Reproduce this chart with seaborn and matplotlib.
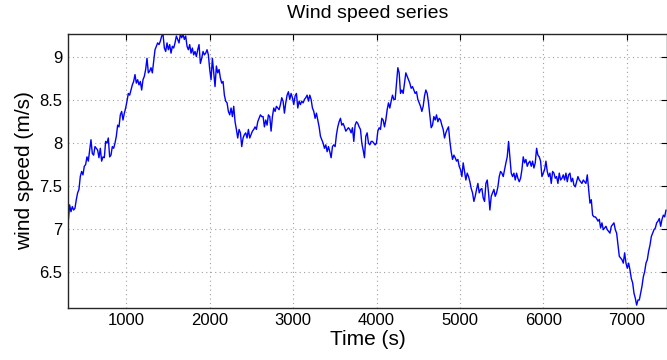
import numpy as np
import pandas as pd
import matplotlib
matplotlib.use("Agg")
import matplotlib.pyplot as plt
import seaborn as sns

seg1 = [7.09, 7.28, 7.20, 7.26, 7.22, 7.24, 7.34, 7.42, 7.46, 7.61, 7.67, 7.63, 7.73, 7.75, 7.84,
        7.79, 7.92, 8.04, 7.88, 7.86, 7.96, 7.94, 7.92, 7.83, 7.94, 7.79, 7.84, 7.83, 8.02, 8.00,
        8.06, 7.84, 7.86, 7.96, 7.94, 8.00, 8.08, 8.21, 8.19, 8.33, 8.37, 8.27, 8.35, 8.41, 8.49,
        8.58, 8.56, 8.62, 8.68, 8.72, 8.80, 8.70, 8.74, 8.68, 8.72, 8.62, 8.74, 8.78, 8.86, 8.99,
        8.82, 8.84, 8.88, 8.82, 8.95, 9.09, 9.13, 9.17, 9.15, 9.19, 9.25, 9.27, 9.11]
seg2 = [9.07, 9.17, 9.09, 9.15, 9.05, 9.13, 9.11, 9.17, 9.25, 9.21, 9.17, 9.27, 9.23, 9.27, 9.21,
        9.25, 9.13, 9.09, 9.15, 9.05, 9.11, 9.03, 9.07, 9.01, 9.09, 9.15, 8.93, 8.99, 9.07, 9.03,
        9.05, 9.09, 9.03, 8.86, 8.74, 8.99, 8.82, 8.66, 8.90, 8.82, 8.86, 8.76, 8.70, 8.72, 8.56,
        8.49, 8.47, 8.37, 8.33, 8.41, 8.31, 8.43, 8.25, 8.16, 8.06, 8.16, 8.12, 7.96, 8.06, 8.10,
        8.12, 8.06, 8.16, 8.06, 8.10, 8.14, 8.16, 8.19, 8.16, 8.25, 8.29, 8.33, 8.31, 8.31, 8.19]
seg3 = [8.27, 8.21, 8.33, 8.31, 8.14, 8.31, 8.41, 8.37, 8.43, 8.41, 8.39, 8.45, 8.53, 8.49, 8.35,
        8.47, 8.56, 8.60, 8.51, 8.58, 8.53, 8.45, 8.55, 8.58, 8.41, 8.49, 8.45, 8.49, 8.47, 8.51,
        8.53, 8.56, 8.49, 8.56, 8.51, 8.41, 8.37, 8.29, 8.35, 8.27, 8.19, 8.08, 8.04, 8.00, 7.94,
        7.98, 7.90, 7.96, 7.90, 7.83, 7.96, 7.98, 7.96, 8.10, 8.19, 8.25, 8.29, 8.21, 8.23, 8.19,
        8.14, 8.16, 8.18, 8.16, 8.12, 8.18, 8.02, 8.21, 8.25, 8.23, 8.19, 8.16, 8.00, 7.92, 7.83]
seg4 = [8.08, 8.12, 8.00, 7.98, 8.02, 8.02, 8.00, 7.98, 8.00, 8.14, 8.18, 8.16, 8.29, 8.27, 8.19,
        8.27, 8.39, 8.47, 8.41, 8.49, 8.56, 8.51, 8.51, 8.70, 8.88, 8.82, 8.58, 8.62, 8.58, 8.70,
        8.82, 8.78, 8.74, 8.70, 8.64, 8.66, 8.62, 8.58, 8.60, 8.51, 8.47, 8.43, 8.37, 8.43, 8.55,
        8.62, 8.58, 8.47, 8.33, 8.18, 8.21, 8.31, 8.27, 8.33, 8.25, 8.29, 8.27, 8.21, 8.16, 8.06,
        8.12, 8.16, 8.19, 8.02, 7.90, 7.81, 7.86, 7.83, 7.79, 7.81, 7.73, 7.69, 7.61, 7.77, 7.67]
seg5 = [7.57, 7.65, 7.61, 7.55, 7.47, 7.42, 7.32, 7.38, 7.46, 7.53, 7.42, 7.46, 7.47, 7.36, 7.32,
        7.53, 7.57, 7.42, 7.22, 7.38, 7.42, 7.46, 7.38, 7.42, 7.49, 7.61, 7.67, 7.65, 7.61, 7.69,
        7.77, 7.84, 8.02, 7.83, 7.65, 7.61, 7.65, 7.57, 7.65, 7.59, 7.55, 7.59, 7.69, 7.84, 7.77,
        7.81, 7.73, 7.77, 7.79, 7.73, 7.79, 7.71, 7.77, 7.94, 7.86, 7.84, 7.79, 7.61, 7.65, 7.69,
        7.79, 7.67, 7.61, 7.65, 7.53, 7.67, 7.65, 7.59, 7.61, 7.53, 7.65, 7.57, 7.59, 7.63, 7.57]
seg6 = [7.65, 7.55, 7.63, 7.65, 7.55, 7.59, 7.51, 7.49, 7.55, 7.61, 7.57, 7.55, 7.53, 7.57, 7.55,
        7.53, 7.63, 7.47, 7.30, 7.34, 7.16, 7.14, 7.14, 7.12, 7.09, 7.11, 7.01, 7.07, 6.99, 7.01,
        7.03, 6.99, 6.97, 6.95, 7.03, 7.05, 7.07, 6.99, 6.95, 6.81, 6.68, 6.66, 6.64, 6.60, 6.72,
        6.60, 6.54, 6.60, 6.52, 6.42, 6.37, 6.25, 6.19, 6.11, 6.17, 6.17, 6.25, 6.33, 6.44, 6.50,
        6.60, 6.64, 6.74, 6.81, 6.91, 6.95, 6.99, 7.01, 7.07, 7.09, 7.12, 7.03, 7.11, 7.16, 7.14,
        7.22]

speed = seg1 + seg2 + seg3 + seg4 + seg5 + seg6
t_start, t_step = 303, 16
time = t_start + t_step * np.arange(len(speed))

x_ticks = [1000, 2000, 3000, 4000, 5000, 6000, 7000]
y_ticks = [6.5, 7, 7.5, 8, 8.5, 9]

df = pd.DataFrame({"Time (s)": time, "wind speed (m/s)": speed})

sns.set_style("white")
plt.rcParams["font.family"] = ["Liberation Sans", "DejaVu Sans"]
plt.rcParams["text.color"] = "black"
plt.rcParams["axes.labelcolor"] = "black"

fig = plt.figure(figsize=(6.67, 3.60), dpi=100)
ax = fig.add_axes([0.102, 0.1453, 0.898, 0.7594])

sns.lineplot(data=df, x="Time (s)", y="wind speed (m/s)", ax=ax,
             color=(0, 0, 1), linewidth=1.0)

ax.set_xlim(300, 7483)
ax.set_ylim(6.08, 9.27)
ax.set_xticks(x_ticks)
ax.set_yticks(y_ticks)
ax.set_xticklabels([str(v) for v in x_ticks])
ax.set_yticklabels([f"{v:g}" for v in y_ticks])
ax.grid(True, linestyle=(0, (1, 3)), color="#a0a0a0", linewidth=0.8)
ax.tick_params(direction="in", top=True, right=True, length=4, width=0.8,
               labelsize=12, colors="black", pad=4)
for s in ax.spines.values():
    s.set_color("#262626")
    s.set_linewidth(1.0)

ax.set_title("Wind speed series", fontsize=14, pad=12, color="black")
ax.set_xlabel("Time (s)", fontsize=15, labelpad=1, color="black")
ax.set_ylabel("wind speed (m/s)", fontsize=15, labelpad=4, color="black")

fig.savefig("out.png", dpi=100)
